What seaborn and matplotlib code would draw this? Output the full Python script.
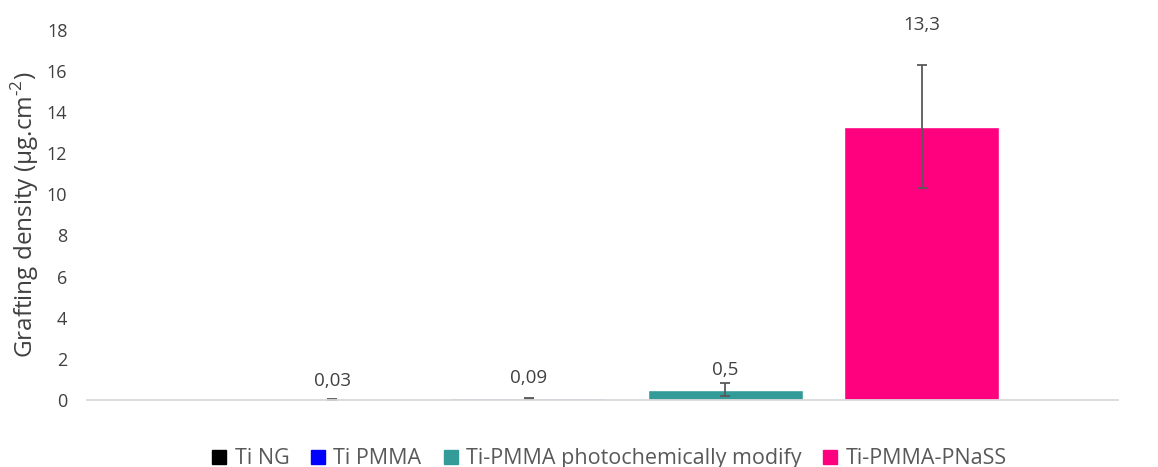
import numpy as np
import pandas as pd
import matplotlib
matplotlib.use("Agg")
import matplotlib.pyplot as plt
from matplotlib.lines import Line2D
import seaborn as sns

# 数据
samples = ["Ti NG", "Ti PMMA", "Ti-PMMA photochemically modify", "Ti-PMMA-PNaSS"]
density = [0.03, 0.09, 0.5, 13.3]
density_err = [0.01, 0.02, 0.33, 3.0]
value_labels = ["0,03", "0,09", "0,5", "13,3"]

bar_colors = ["#000000", "#7F7FFF", "#339C98", "#FF007F"]
legend_colors = ["#000000", "#0000FF", "#339C98", "#FF007F"]

sns.set_style("white")
plt.rcParams["font.family"] = ["Open Sans", "DejaVu Sans"]
plt.rcParams["mathtext.fontset"] = "custom"
plt.rcParams["mathtext.rm"] = "Open Sans"

df = pd.DataFrame({"sample": samples, "density": density})

fig = plt.figure(figsize=(11.58, 4.67), dpi=100)
ax = fig.add_axes([0.075, 0.1435, 0.8905, 0.7925])

sns.barplot(data=df, x="sample", y="density", hue="sample", order=samples,
            palette=bar_colors, width=0.79, errorbar=None, legend=False,
            saturation=1, ax=ax)

# 误差棒 + 数值标签
label_pad = [13, 14, 9.5, 29]
for i, p in enumerate(ax.patches[:len(samples)]):
    xc = p.get_x() + p.get_width() / 2
    ax.errorbar(xc, density[i], yerr=density_err[i], fmt="none",
                ecolor="#595959", elinewidth=1.3, capsize=3.5, capthick=1.3)
    ax.annotate(value_labels[i], (xc, density[i] + density_err[i]),
                xytext=(0, label_pad[i]), textcoords="offset points",
                ha="center", va="center", fontsize=13.5, color="#404040",
                annotation_clip=False)

ax.set_xlim(-1.25, 4.0)
ax.set_ylim(0, 18)
ax.set_yticks(np.arange(0, 19, 2))
ax.tick_params(axis="y", labelsize=13, colors="#404040", length=0, pad=14)
ax.set_xticks([])
ax.set_xlabel("")
ax.set_ylabel(r"Grafting density (µg.cm$^{\mathrm{\text{-}2}}$)", fontsize=17.5,
              color="#404040", labelpad=4)

for s in ["top", "right", "left"]:
    ax.spines[s].set_visible(False)
ax.spines["bottom"].set_color("#D9D9D9")
ax.spines["bottom"].set_linewidth(1.3)

handles = [Line2D([0], [0], marker="s", linestyle="none", markersize=10,
                  markerfacecolor=c, markeredgecolor=c) for c in legend_colors]
fig.legend(handles, samples, loc="center", bbox_to_anchor=(0.52, 0.018),
           ncol=4, frameon=False, fontsize=15.5, handletextpad=-0.3,
           columnspacing=0.35, labelcolor="#595959")

fig.savefig("out.png", dpi=100)
